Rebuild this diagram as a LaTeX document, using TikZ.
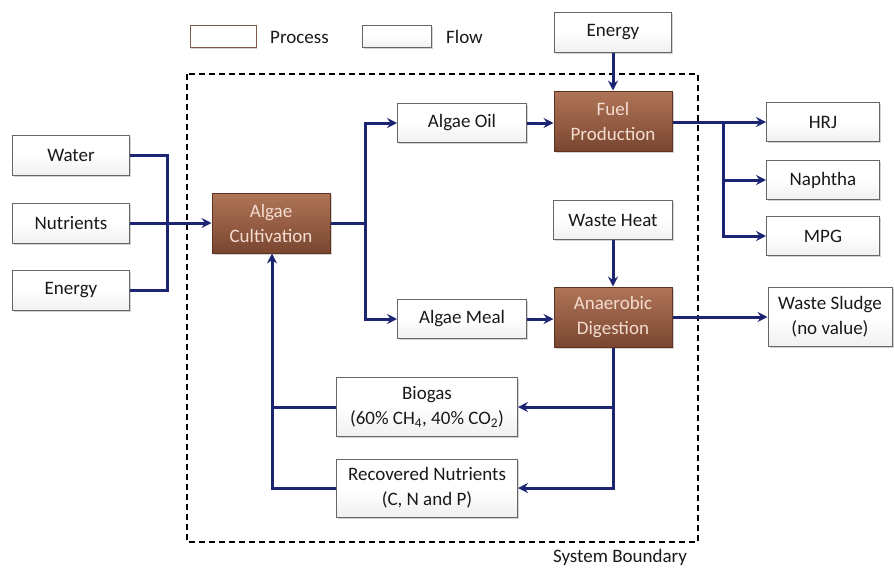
\documentclass[tikz,border=0pt]{standalone}
\usepackage{fontspec}
\setmainfont{Carlito}
\usetikzlibrary{arrows.meta,shadows,calc}
\definecolor{navy}{HTML}{1C2573}
\definecolor{brownT}{HTML}{B07558}
\definecolor{brownB}{HTML}{7A4630}
\definecolor{brownD}{HTML}{5E3220}
\definecolor{ptext}{HTML}{F4DCD0}
\tikzset{
  every node/.style={font=\fontsize{19}{25}\selectfont, align=center, inner sep=0pt},
  flowbox/.style={draw=gray!80!black, line width=1pt, top color=white, bottom color=gray!12, middle color=white,
    drop shadow={shadow xshift=1.5pt, shadow yshift=-1.8pt, opacity=0.35}, text=black!90},
  procbox/.style={draw=brownD, line width=1pt, top color=brownT, bottom color=brownB,
    drop shadow={shadow xshift=1.5pt, shadow yshift=-1.8pt, opacity=0.35}, text=ptext,
    minimum width=118pt, minimum height=60pt},
  conn/.style={draw=navy, line width=3pt},
  arr/.style={conn, -{Stealth[length=10pt,width=10pt,inset=3.5pt]}},
}
\begin{document}
\begin{tikzpicture}[x=1pt,y=-1pt]
\useasboundingbox (0,0) rectangle (894,571);
% legend
\node[draw=brownD!80, line width=1pt, fill=white, drop shadow={shadow xshift=1.2pt, shadow yshift=-1.5pt, opacity=0.35}, minimum width=66pt, minimum height=22pt] (legP) at (223,36) {};
\node[anchor=west, text=black!90] (legPt) at (270,37) {Process};
\node[flowbox, minimum width=69pt, minimum height=22pt] (legF) at (397,36) {};
\node[anchor=west, text=black!90] (legFt) at (446,37) {Flow};
% boundary
\draw[line width=1.6pt, dash pattern=on 6pt off 4pt] (187,74) rectangle (698,542);
\node[text=black!90] (sb) at (620,557) {System Boundary};
% flow boxes
\node[flowbox, minimum width=117pt, minimum height=40pt] (water) at (71,155) {Water};
\node[flowbox, minimum width=117pt, minimum height=40pt] (nutr) at (71,223) {Nutrients};
\node[flowbox, minimum width=117pt, minimum height=40pt] (energyL) at (71,290) {Energy};
\node[flowbox, minimum width=117pt, minimum height=40pt] (energyT) at (613,32) {Energy};
\node[flowbox, minimum width=129pt, minimum height=39pt] (oil) at (462,123) {Algae Oil};
\node[flowbox, minimum width=129pt, minimum height=39pt] (meal) at (462,319) {Algae Meal};
\node[flowbox, minimum width=119pt, minimum height=39pt] (heat) at (613,220) {Waste Heat};
\node[flowbox, minimum width=113pt, minimum height=39pt] (hrj) at (823,122) {HRJ};
\node[flowbox, minimum width=113pt, minimum height=39pt] (naph) at (823,180) {Naphtha};
\node[flowbox, minimum width=113pt, minimum height=39pt] (mpg) at (823,236) {MPG};
\node[flowbox, minimum width=124pt, minimum height=59pt] (sludge) at (830,317) {Waste Sludge\\(no value)};
\node[flowbox, minimum width=181pt, minimum height=59pt] (biogas) at (427,407) {Biogas\\(60\% CH\textsubscript{4}, 40\% CO\textsubscript{2})};
\node[flowbox, minimum width=181pt, minimum height=58pt] (recov) at (427,488) {Recovered Nutrients\\(C, N and P)};
% process boxes
\node[procbox] (cult) at (271,223) {Algae\\Cultivation};
\node[procbox] (fuel) at (613,121) {Fuel\\Production};
\node[procbox] (ad) at (613,317) {Anaerobic\\Digestion};
% junctions
\coordinate (jIn) at (167,223);
\coordinate (jOut) at (365,223);
\coordinate (jFuel) at (723,122);
\coordinate (jAD) at (613,407);
\coordinate (jRet) at (272,407);
% connectors
\draw[conn] (water.east) -| (jIn);
\draw[conn] (energyL.east) -| (jIn);
\draw[arr] (nutr.east) -- (cult.west);
\draw[conn] (cult.east) -- (jOut);
\draw[arr] (jOut) |- (oil.west);
\draw[arr] (jOut) |- (meal.west);
\draw[arr] (oil.east) -- (oil.east -| fuel.west);
\draw[arr] (meal.east) -- (meal.east -| ad.west);
\draw[arr] (energyT.south) -- (fuel.north);
\draw[arr] (heat.south) -- (ad.north);
\draw[arr] (fuel.east |- hrj.west) -- (hrj.west);
\draw[arr] (jFuel) |- (naph.west);
\draw[arr] (jFuel) |- (mpg.west);
\draw[arr] (ad.east) -- (sludge.west);
\draw[conn] (ad.south) -- (jAD);
\draw[arr] (jAD) -- (biogas.east);
\draw[arr] (jAD) |- (recov.east);
\draw[conn] (biogas.west) -- (jRet);
\draw[arr] (recov.west) -| (jRet |- cult.south);
\end{tikzpicture}
\end{document}
